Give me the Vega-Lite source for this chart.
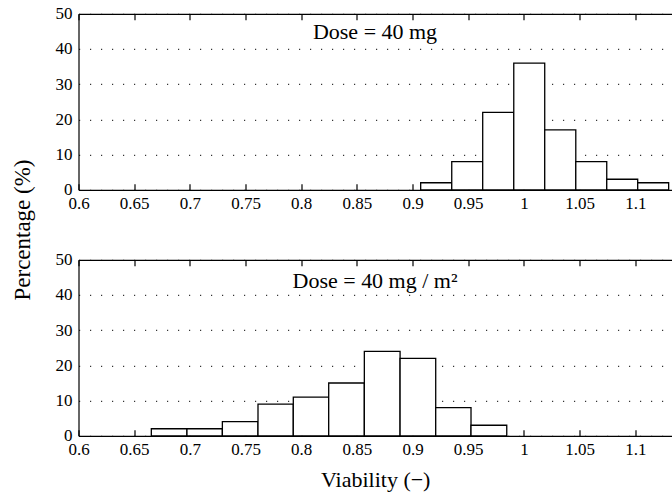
{
  "$schema": "https://vega.github.io/schema/vega-lite/v6.json",
  "padding": {"left": 11.5, "top": 4.8, "right": 0, "bottom": 4},
  "bounds": "flush",
  "spacing": 70,
  "config": {
    "font": "Liberation Serif",
    "view": {"stroke": null},
    "axis": {
      "labelFont": "Liberation Serif",
      "titleFont": "Liberation Serif",
      "labelColor": "#000",
      "titleColor": "#000",
      "domainColor": "#000",
      "domainWidth": 1.2,
      "tickColor": "#000",
      "tickWidth": 1.2,
      "labelFontSize": 17,
      "titleFontSize": 22,
      "titleFontWeight": "normal",
      "labelFlush": false,
      "labelOverlap": false
    }
  },
  "datasets": {
    "top": [
      {"x0": 0.9073, "x1": 0.9352, "pct": 2},
      {"x0": 0.9352, "x1": 0.9630, "pct": 8},
      {"x0": 0.9630, "x1": 0.9909, "pct": 22},
      {"x0": 0.9909, "x1": 1.0187, "pct": 36},
      {"x0": 1.0187, "x1": 1.0466, "pct": 17},
      {"x0": 1.0466, "x1": 1.0744, "pct": 8},
      {"x0": 1.0744, "x1": 1.1022, "pct": 3},
      {"x0": 1.1022, "x1": 1.1300, "pct": 2}
    ],
    "bottom": [
      {"x0": 0.6654, "x1": 0.6974, "pct": 2},
      {"x0": 0.6974, "x1": 0.7292, "pct": 2},
      {"x0": 0.7292, "x1": 0.7612, "pct": 4},
      {"x0": 0.7612, "x1": 0.7929, "pct": 9},
      {"x0": 0.7929, "x1": 0.8247, "pct": 11},
      {"x0": 0.8247, "x1": 0.8567, "pct": 15},
      {"x0": 0.8567, "x1": 0.8888, "pct": 24},
      {"x0": 0.8888, "x1": 0.9208, "pct": 22},
      {"x0": 0.9208, "x1": 0.9525, "pct": 8},
      {"x0": 0.9525, "x1": 0.9846, "pct": 3}
    ],
    "topLabel": [{"tx": 0.8663, "ty": 42.9, "label": "Dose = 40 mg"}],
    "bottomLabel": [{"tx": 0.8663, "ty": 42.1, "label": "Dose = 40 mg / m²"}]
  },
  "vconcat": [
    {
      "width": 593.5,
      "height": 176,
      "layer": [
        {
          "data": {"name": "top"},
          "mark": {"type": "rect", "fill": "#fff", "stroke": "#000", "strokeWidth": 1.3},
          "encoding": {
            "x": {
              "field": "x0", "type": "quantitative",
              "scale": {"domain": [0.6, 1.133], "nice": false, "zero": false},
              "axis": {
                "orient": "bottom", "title": null,
                "values": [0.6, 0.65, 0.7, 0.75, 0.8, 0.85, 0.9, 0.95, 1, 1.05, 1.1],
                "format": "~g", "grid": false,
                "tickSize": -6, "labelPadding": 24.5, "labelBaseline": "alphabetic"
              }
            },
            "x2": {"field": "x1"},
            "y": {
              "field": "pct", "type": "quantitative",
              "scale": {"domain": [0, 50], "nice": false},
              "axis": {
                "title": "Percentage (%)",
                "values": [0, 10, 20, 30, 40, 50],
                "ticks": false, "labelPadding": 6.5,
                "grid": true, "gridColor": "#000", "gridWidth": 1, "gridDash": [1.2, 9.8],
                "titleX": -44, "titleY": 215.7, "titleBaseline": "bottom", "titleFontSize": 23
              }
            },
            "y2": {"datum": 0}
          }
        },
        {
          "data": {"name": "topLabel"},
          "mark": {"type": "text", "fontSize": 22, "font": "Liberation Serif", "color": "#000", "baseline": "alphabetic", "align": "center"},
          "encoding": {
            "x": {
              "field": "tx", "type": "quantitative",
              "scale": {"domain": [0.6, 1.133], "nice": false, "zero": false},
              "axis": {
                "orient": "top", "title": null, "labels": false, "grid": false,
                "values": [0.6, 0.65, 0.7, 0.75, 0.8, 0.85, 0.9, 0.95, 1, 1.05, 1.1],
                "tickSize": -6
              }
            },
            "y": {
              "field": "ty", "type": "quantitative",
              "scale": {"domain": [0, 50], "nice": false},
              "axis": {
                "title": "Percentage (%)",
                "values": [0, 10, 20, 30, 40, 50],
                "ticks": false, "labelPadding": 6.5,
                "grid": true, "gridColor": "#000", "gridWidth": 1, "gridDash": [1.2, 9.8],
                "titleX": -44, "titleY": 215.7, "titleBaseline": "bottom", "titleFontSize": 23
              }
            },
            "text": {"field": "label"}
          }
        }
      ],
      "resolve": {"axis": {"x": "independent"}}
    },
    {
      "width": 593.5,
      "height": 176,
      "layer": [
        {
          "data": {"name": "bottom"},
          "mark": {"type": "rect", "fill": "#fff", "stroke": "#000", "strokeWidth": 1.3},
          "encoding": {
            "x": {
              "field": "x0", "type": "quantitative",
              "scale": {"domain": [0.6, 1.133], "nice": false, "zero": false},
              "axis": {
                "orient": "bottom", "title": "Viability (−)",
                "values": [0.6, 0.65, 0.7, 0.75, 0.8, 0.85, 0.9, 0.95, 1, 1.05, 1.1],
                "format": "~g", "grid": false,
                "tickSize": -6, "labelPadding": 24.5, "labelBaseline": "alphabetic",
                "titleBaseline": "alphabetic", "titleY": 50.5
              }
            },
            "x2": {"field": "x1"},
            "y": {
              "field": "pct", "type": "quantitative",
              "scale": {"domain": [0, 50], "nice": false},
              "axis": {
                "title": null,
                "values": [0, 10, 20, 30, 40, 50],
                "ticks": false, "labelPadding": 6.5,
                "grid": true, "gridColor": "#000", "gridWidth": 1, "gridDash": [1.2, 9.8]
              }
            },
            "y2": {"datum": 0}
          }
        },
        {
          "data": {"name": "bottomLabel"},
          "mark": {"type": "text", "fontSize": 22, "font": "Liberation Serif", "color": "#000", "baseline": "alphabetic", "align": "center"},
          "encoding": {
            "x": {
              "field": "tx", "type": "quantitative",
              "scale": {"domain": [0.6, 1.133], "nice": false, "zero": false},
              "axis": {
                "orient": "top", "title": null, "labels": false, "grid": false,
                "values": [0.6, 0.65, 0.7, 0.75, 0.8, 0.85, 0.9, 0.95, 1, 1.05, 1.1],
                "tickSize": -6
              }
            },
            "y": {
              "field": "ty", "type": "quantitative",
              "scale": {"domain": [0, 50], "nice": false},
              "axis": {
                "title": null,
                "values": [0, 10, 20, 30, 40, 50],
                "ticks": false, "labelPadding": 6.5,
                "grid": true, "gridColor": "#000", "gridWidth": 1, "gridDash": [1.2, 9.8]
              }
            },
            "text": {"field": "label"}
          }
        }
      ],
      "resolve": {"axis": {"x": "independent"}}
    }
  ]
}
